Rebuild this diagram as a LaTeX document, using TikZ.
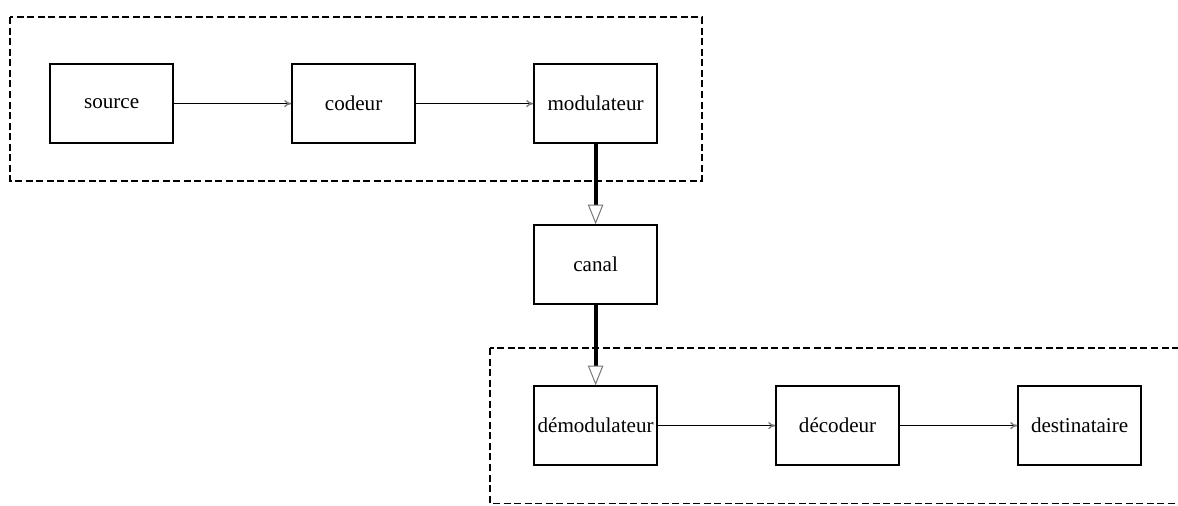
\documentclass[tikz,border=0pt]{standalone}
\usepackage{fontspec}
\setmainfont{Liberation Serif}
\usetikzlibrary{arrows.meta}
\definecolor{tipgray}{RGB}{120,120,120}

\begin{document}
\begin{tikzpicture}[
    bloc/.style={draw,line width=1.2pt,minimum width=3.075cm,minimum height=1.975cm,inner sep=0pt,font=\fontsize{15}{18}\selectfont},
    lien/.style={line width=0.95pt,-{To[length=5pt,width=5pt,color=tipgray]}},
    canal/.style={line width=2.8pt,-{Triangle[open,length=14pt,width=11pt,line width=0.7pt,color=tipgray,fill=white]}},
    cadre/.style={line width=1pt,dash pattern=on 5pt off 2.5pt}]
  \def\dx{6.05};
  \def\dy{4.025};
  \def\xo{2.79};
  \def\yo{-2.59};
  \useasboundingbox (0,0) rectangle (29.45,-12.65);

  \draw[cadre] (0.25,-0.43) rectangle (17.55,-4.52);
  \draw[cadre] (12.25,-8.7) rectangle (29.9,-12.58);

  \node[bloc] (source) at (\xo,\yo) {source};
  \node[bloc] (codeur) at (\xo+\dx,\yo) {codeur};
  \node[bloc] (modul) at (\xo+2*\dx,\yo) {modulateur};
  \node[bloc] (canal) at (\xo+2*\dx,\yo-\dy) {canal};
  \node[bloc] (demod) at (\xo+2*\dx,\yo-2*\dy) {démodulateur};
  \node[bloc] (decod) at (\xo+3*\dx,\yo-2*\dy) {décodeur};
  \node[bloc] (dest) at (\xo+4*\dx,\yo-2*\dy) {destinataire};

  \draw[lien] (source) -- (codeur);
  \draw[lien] (codeur) -- (modul);
  \draw[canal] (modul) -- (canal);
  \draw[canal] (canal) -- (demod);
  \draw[lien] (demod) -- (decod);
  \draw[lien] (decod) -- (dest);
\end{tikzpicture}
\end{document}
